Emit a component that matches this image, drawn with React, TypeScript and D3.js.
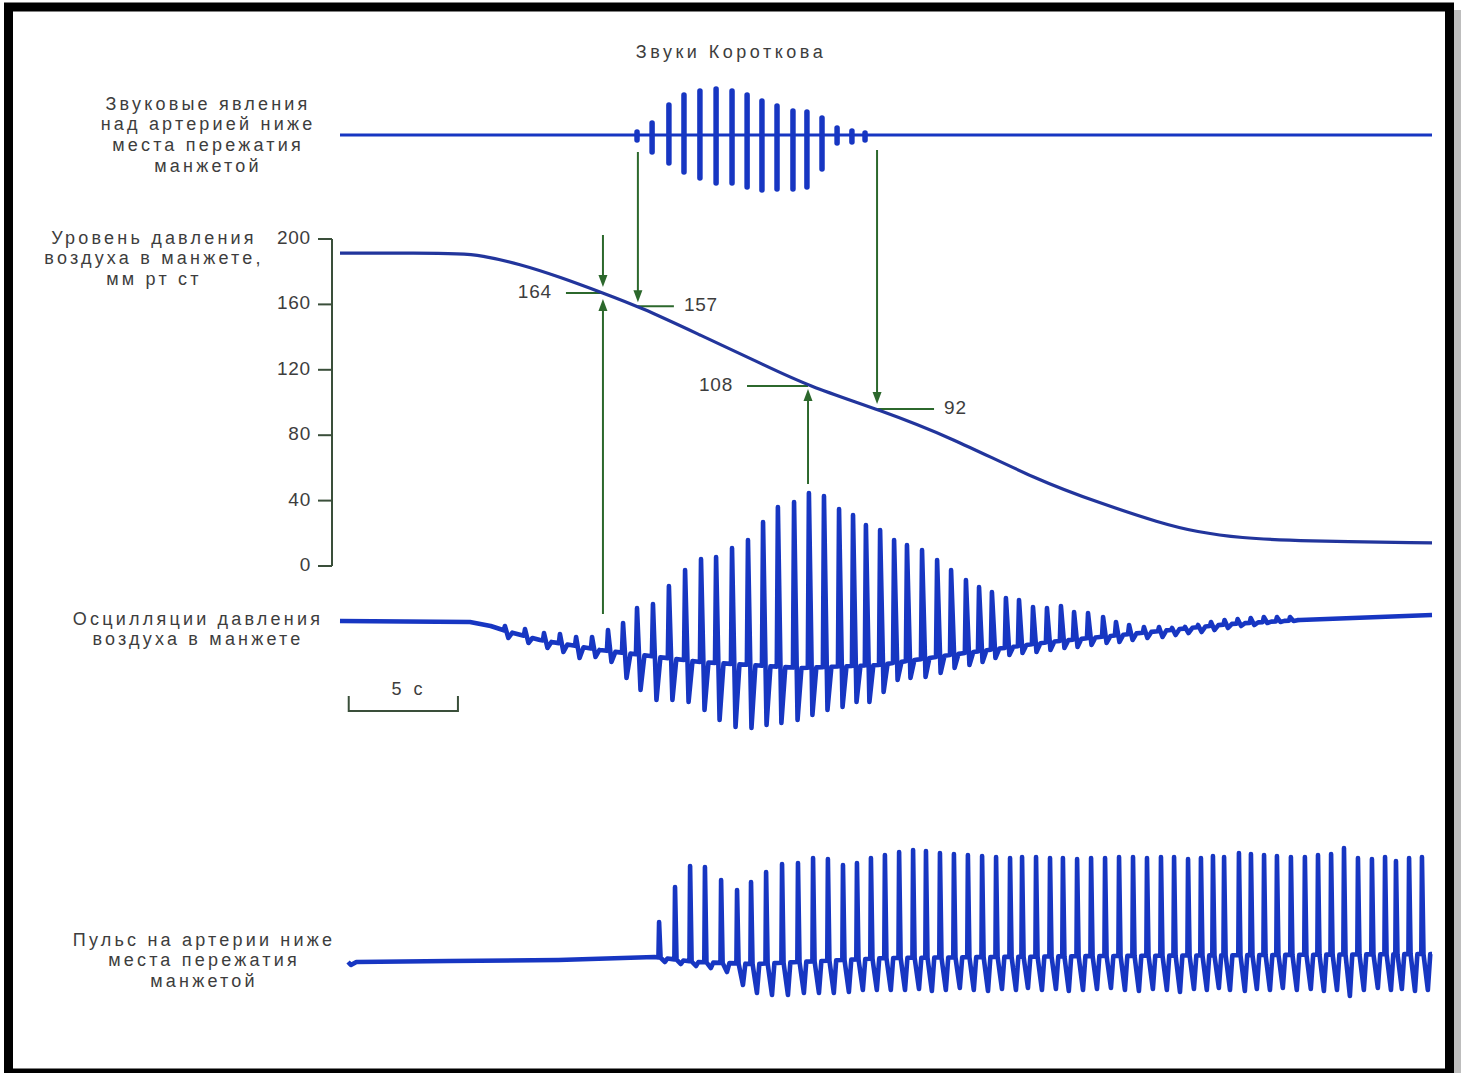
import React from 'react';
import * as d3 from 'd3';

const W = 1461;
const H = 1073;

// time axis of the recording, seconds
const timeDomain = [0, 50];

// cuff pressure, mm Hg
const pressureTime = [0, 3.66, 5.5, 6.41, 8.24, 10.07, 12.04, 13.74, 16.48, 19.23, 21.43, 24.73, 27.93, 31.92, 34.8, 37.55, 39.24, 41.2, 43.96, 50];
const pressureValue = [191.4, 191.4, 191, 190.2, 184.7, 176.8, 167, 158.4, 141.3, 124.2, 110.1, 95.4, 78.9, 52.6, 38.5, 26.3, 20.8, 17.1, 15.3, 14.1];
const pressureTicks = [0, 40, 80, 120, 160, 200];

// readings marked on the pressure curve
const markTime = [12.04, 13.64, 21.43, 24.59];
const markLabel = ['164', '157', '108', '92'];

// Korotkoff sounds (relative units above / below baseline)
const soundTime = [13.6, 14.29, 15.06, 15.75, 16.48, 17.22, 17.95, 18.64, 19.32, 20.01, 20.74, 21.38, 22.07, 22.76, 23.44, 24.04];
const soundUp = [3, 12, 30, 40, 44, 46, 44, 40, 34, 29, 24, 23, 17, 7, 4, 2];
const soundDown = [5, 17, 28, 37, 43, 48, 48, 52, 55, 54, 54, 52, 34, 8, 7, 5];

// cuff pressure oscillations (relative units)
const oscMidTime = [0, 5.95, 6.9, 7.6, 9.16, 11.9, 16.5, 21.06, 24.7, 27.93, 32.5, 37.1, 40.75, 43.96, 50];
const oscMidValue = [0, -1, -5, -10, -19, -29, -41, -47, -44, -34, -21, -11, -3, 1, 6];
const oscBeatTime = [7.55, 8.47, 9.34, 10.07, 10.81, 11.54, 12.27, 12.96, 13.6, 14.33, 15.06, 15.8, 16.53, 17.22, 17.95, 18.68, 19.37, 20.05, 20.79, 21.47, 22.16, 22.85, 23.49, 24.08, 24.73, 25.37, 25.96, 26.65, 27.34, 27.98, 28.66, 29.26, 29.85, 30.49, 31.09, 31.73, 32.37, 33.01, 33.61, 34.25, 34.94, 35.53, 36.13, 36.81, 37.5, 38.1, 38.69, 39.29, 39.88, 40.5, 41.1, 41.7, 42.3, 42.9, 43.5];
const oscPeak = [-5, -8, -12, -13, -16, -16, -9, -2, 13, 17, 35, 51, 62, 64, 73, 81, 99, 114, 119, 128, 125, 112, 106, 96, 91, 81, 76, 71, 61, 51, 41, 34, 29, 23, 21, 14, 13, 15, 9, 8, 4, -1, -4, -6, -6, -7, -6, -4, -1, 1, 2, 3, 4, 4, 4];
const oscTrough = [-17, -22, -27, -31, -37, -36, -41, -57, -69, -79, -79, -81, -89, -99, -106, -107, -104, -102, -99, -94, -89, -86, -81, -81, -71, -59, -57, -56, -52, -47, -44, -41, -37, -34, -32, -31, -29, -27, -26, -24, -22, -21, -19, -17, -16, -14, -12, -11, -9, -7, -5, -4, -2, -1, 0];

// arterial pulse below the cuff (relative units)
const pulseMidTime = [0.37, 0.5, 0.75, 5, 10, 14.4, 16.3, 19, 25, 35, 50];
const pulseMidValue = [-2, -5, -2, -1, 0, 3, -2, -4, 2, 4, 6];
const pulseBeatTime = [14.61, 15.34, 16.03, 16.71, 17.45, 18.18, 18.82, 19.51, 20.24, 20.97, 21.66, 22.34, 23.03, 23.67, 24.31, 24.95, 25.6, 26.24, 26.83, 27.47, 28.11, 28.75, 29.4, 30.04, 30.68, 31.23, 31.87, 32.51, 33.1, 33.75, 34.39, 35.03, 35.67, 36.31, 36.95, 37.59, 38.19, 38.83, 39.42, 39.97, 40.48, 41.16, 41.71, 42.31, 42.9, 43.54, 44.18, 44.78, 45.38, 45.97, 46.61, 47.25, 47.85, 48.35, 48.95, 49.54];
const pulsePeak = [38, 73, 94, 93, 80, 70, 78, 88, 96, 97, 102, 101, 95, 97, 102, 105, 108, 110, 109, 107, 106, 105, 104, 103, 102, 103, 103, 102, 102, 101, 102, 102, 103, 103, 102, 103, 103, 101, 102, 104, 103, 107, 106, 105, 104, 103, 103, 105, 106, 112, 102, 101, 103, 99, 102, 103];
const pulseTrough = [-2, -4, -6, -8, -12, -25, -33, -35, -35, -33, -33, -33, -32, -30, -30, -30, -30, -29, -31, -30, -28, -30, -31, -29, -30, -28, -30, -29, -31, -30, -29, -28, -30, -31, -29, -30, -32, -29, -30, -28, -30, -31, -29, -30, -28, -30, -29, -31, -30, -36, -30, -28, -30, -29, -31, -30];

const labelLeft = [
  { lines: ['Звуковые явления', 'над артерией ниже', 'места пережатия', 'манжетой'], x: 208, y: 105 },
  { lines: ['Уровень давления', 'воздуха в манжете,', 'мм рт ст'], x: 154, y: 239 },
  { lines: ['Осцилляции давления', 'воздуха в манжете'], x: 198, y: 620 },
  { lines: ['Пульс на артерии ниже', 'места пережатия', 'манжетой'], x: 204, y: 941 },
];

const TRACE = '#1736c2';
const CURVE = '#22359c';
const GREEN = '#2c682c';
const AXIS = '#3a4f3a';
const TEXT = '#3d3d3d';
const FONT = '"Liberation Sans", Arial, sans-serif';

type Pt = [number, number];

// shape of one beat, seconds from its peak: [offset, kind]  kind: 0 midline, 1 peak, 2 trough
type Shape = [number, number][];
const oscShape: Shape = [[-0.05, 0], [0, 1], [0.16, 2], [0.34, 0]];
const pulseShape: Shape = [[-0.03, 0], [0, 1], [0.07, 0], [0.27, 2], [0.38, 0]];

function beatTrace(times: number[], peaks: number[], troughs: number[], midT: number[], midV: number[], shape: Shape): Pt[] {
  const mid = d3.scaleLinear(midT, midV).clamp(true);
  const pts: Pt[] = [];
  let ti = 0;
  const pushMid = (limit: number) => {
    while (ti < midT.length && midT[ti] < limit) {
      pts.push([midT[ti], midV[ti]]);
      ti++;
    }
  };
  times.forEach((t, i) => {
    pushMid(t + shape[0][0]);
    shape.forEach(([dt, k]) => {
      const tt = t + dt;
      pts.push([tt, k === 1 ? peaks[i] : k === 2 ? troughs[i] : mid(tt)]);
    });
    while (ti < midT.length && midT[ti] <= t + shape[shape.length - 1][0]) ti++;
  });
  pushMid(Infinity);
  return pts;
}

export default function App() {
  const x = d3.scaleLinear(timeDomain, [340, 1432]);
  const yP = d3.scaleLinear([0, 200], [566, 239]);
  const ySound = d3.scaleLinear([-60, 60], [195, 75]);
  const yOsc = d3.scaleLinear([-120, 140], [741, 481]);
  const yPulse = d3.scaleLinear([-40, 120], [1000, 840]);

  const pressureLine = d3.line<number>()
    .x((_, i) => x(pressureTime[i]))
    .y((d) => yP(d))
    .curve(d3.curveBasis)(pressureValue);
  const pressureAt = d3.scaleLinear(pressureTime, pressureValue);

  const oscPath = d3.line<Pt>().x((d) => x(d[0])).y((d) => yOsc(d[1]))(
    beatTrace(oscBeatTime, oscPeak, oscTrough, oscMidTime, oscMidValue, oscShape)
  );
  const pulsePath = d3.line<Pt>().x((d) => x(d[0])).y((d) => yPulse(d[1]))(
    beatTrace(pulseBeatTime, pulsePeak, pulseTrough, pulseMidTime, pulseMidValue, pulseShape)
  );

  const axisX = 332;
  const barStart = 0.4;

  const arrow = (x0: number, yFrom: number, yTo: number, key: string) => {
    const dir = yTo > yFrom ? 1 : -1;
    return (
      <g key={key}>
        <line x1={x0} x2={x0} y1={yFrom} y2={yTo - dir * 10} stroke={GREEN} strokeWidth={2} />
        <path d={`M${x0 - 4.5},${yTo - dir * 12} L${x0 + 4.5},${yTo - dir * 12} L${x0},${yTo} Z`} fill={GREEN} />
      </g>
    );
  };

  const marks = markTime.map((t, i) => ({ cx: x(t), cy: yP(pressureAt(t)), label: markLabel[i] }));

  return (
    <svg width={W} height={H} style={{ position: 'absolute', left: 0, top: 0, background: '#fff' }} fontFamily={FONT}>
      <rect x={1454} y={10} width={7} height={H} fill="#bdbdbd" />
      <rect x={8.5} y={7} width={1441} height={1066} fill="#fff" stroke="#000" strokeWidth={9} />

      <text x={731} y={53} textAnchor="middle" dominantBaseline="middle" fontSize={18} letterSpacing={3.5} fill={TEXT}>Звуки Короткова</text>
      {labelLeft.map((g, gi) => (
        <text key={gi} textAnchor="middle" fontSize={18} letterSpacing={3.2} fill={TEXT}>
          {g.lines.map((l, li) => (
            <tspan key={li} x={g.x} y={g.y + li * 20.7} dominantBaseline="middle">{l}</tspan>
          ))}
        </text>
      ))}

      {/* pressure axis */}
      <line x1={axisX} x2={axisX} y1={yP(200)} y2={yP(0)} stroke={AXIS} strokeWidth={2} />
      {pressureTicks.map((v) => (
        <g key={v}>
          <line x1={axisX - 14} x2={axisX} y1={yP(v)} y2={yP(v)} stroke={AXIS} strokeWidth={2} />
          <text x={311} y={yP(v)} textAnchor="end" dominantBaseline="middle" fontSize={19} letterSpacing={0.8} fill={TEXT}>{v}</text>
        </g>
      ))}

      {/* Korotkoff sounds */}
      <line x1={x(timeDomain[0])} x2={x(timeDomain[1])} y1={ySound(0)} y2={ySound(0)} stroke={TRACE} strokeWidth={3.2} />
      {soundTime.map((t, i) => (
        <line key={i} x1={x(t)} x2={x(t)} y1={ySound(soundUp[i])} y2={ySound(-soundDown[i])} stroke={TRACE} strokeWidth={5.5} strokeLinecap="round" />
      ))}

      {/* annotation arrows */}
      {arrow(marks[0].cx, 235, marks[0].cy - 6, 'a0')}
      {arrow(marks[0].cx, 614, marks[0].cy + 6, 'a1')}
      {arrow(marks[1].cx, 152, marks[1].cy - 4, 'a2')}
      {arrow(marks[2].cx, 484, marks[2].cy + 3, 'a3')}
      {arrow(marks[3].cx, 150, marks[3].cy - 5, 'a4')}
      {marks.map((m, i) => {
        const left = i === 0 || i === 2;
        const len = i === 0 ? 37 : i === 1 ? 36 : i === 2 ? 61 : 57;
        return (
          <g key={m.label}>
            <line x1={m.cx} x2={left ? m.cx - len : m.cx + len} y1={m.cy} y2={m.cy} stroke={GREEN} strokeWidth={2} />
            <text x={left ? m.cx - len - 14 : m.cx + len + 10} y={m.cy} textAnchor={left ? 'end' : 'start'} dominantBaseline="middle" fontSize={19} letterSpacing={0.8} fill={TEXT}>{m.label}</text>
          </g>
        );
      })}

      <path d={pressureLine ?? ''} fill="none" stroke={CURVE} strokeWidth={3.2} />

      {/* oscillations */}
      <path d={oscPath ?? ''} fill="none" stroke={TRACE} strokeWidth={4.6} strokeLinejoin="round" />

      {/* 5 s scale bar */}
      <path d={`M${x(barStart)},696 V711 H${x(barStart + 5)} V696`} fill="none" stroke={AXIS} strokeWidth={2} />
      <text x={x(barStart + 2.75)} y={690} textAnchor="middle" dominantBaseline="middle" fontSize={18} letterSpacing={3.5} fill={TEXT}>5 с</text>

      {/* pulse */}
      <path d={pulsePath ?? ''} fill="none" stroke={TRACE} strokeWidth={4.6} strokeLinejoin="round" />
    </svg>
  );
}
